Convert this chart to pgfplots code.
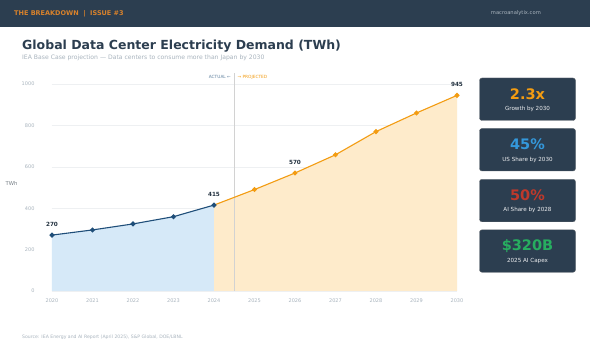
\documentclass[border=0pt]{standalone}
\usepackage{fontspec}
\setmainfont{DejaVu Sans}
\usepackage{pgfplots}
\pgfplotsset{compat=1.18}
\definecolor{navy}{HTML}{2C3E50}
\definecolor{hdrorange}{HTML}{D9822B}
\definecolor{actline}{HTML}{1F4E79}
\definecolor{actfill}{HTML}{D6E9F8}
\definecolor{proline}{HTML}{F39C12}
\definecolor{profill}{HTML}{FEEBCB}
\definecolor{tickgray}{HTML}{A9B4BE}
\definecolor{gridgray}{HTML}{EEF0F2}
\definecolor{cardorange}{HTML}{F39C12}
\definecolor{cardblue}{HTML}{3498DB}
\definecolor{cardred}{HTML}{C0392B}
\definecolor{cardgreen}{HTML}{27AE60}
\definecolor{titlecol}{HTML}{2C3E50}
\begin{document}
\begin{tikzpicture}[x=1pt,y=1pt]
\fill[white] (0,0) rectangle (590,350);
% header
\fill[navy] (0,323) rectangle (590,350);
\node[anchor=west,inner sep=0,text=hdrorange,font=\fontsize{6.5}{7}\selectfont\bfseries] at (14,336.5) {THE BREAKDOWN \ |\ \ ISSUE \#3};
\node[anchor=east,inner sep=0,text=tickgray,font=\fontsize{5.2}{6}\selectfont] at (541,336.5) {macroanalytix.com};
% titles
\node[anchor=west,inner sep=0,text=titlecol,font=\fontsize{12.5}{14}\selectfont\bfseries] at (22,304) {Global Data Center Electricity Demand (TWh)};
\node[anchor=west,inner sep=0,text=tickgray,font=\fontsize{6.1}{7}\selectfont] at (22,292) {IEA Base Case projection --- Data centers to consume more than Japan by 2030};
\node[inner sep=0,text=tickgray!70!black,font=\fontsize{5.3}{6}\selectfont] at (11.5,167) {TWh};
\node[anchor=west,inner sep=0,text=tickgray,font=\fontsize{4.6}{5}\selectfont] at (22,13) {Source: IEA Energy and AI Report (April 2025), S\&P Global, DOE/LBNL};
\begin{axis}[
  at={(52pt,59pt)}, anchor=south west,
  scale only axis, width=405pt, height=207pt,
  xmin=2020, xmax=2030, ymin=0, ymax=1000,
  clip=false,
  axis line style={draw=none},
  major tick length=0pt,
  ytick={0,200,400,600,800,1000},
  xtick={2020,2021,...,2030},
  ymajorgrids, grid style={gridgray, line width=0.5pt},
  /pgf/number format/assume math mode=true,
  x tick label style={/pgf/number format/1000 sep={}, yshift=-4pt},
  yticklabel style={/pgf/number format/1000 sep={}, xshift=-14pt},
  tick label style={text=tickgray, font=\fontsize{5}{5}\selectfont},
]
\addplot[fill=actfill, draw=none] coordinates {(2020,270) (2021,295) (2022,324) (2023,359) (2024,415)} \closedcycle;
\addplot[fill=profill, draw=none] coordinates {(2024,415) (2025,490) (2026,570) (2027,658) (2028,770) (2029,860) (2030,945)} \closedcycle;
\draw[gray!35, line width=0.6pt] (axis cs:2024.5,0) -- (axis cs:2024.5,1052);
\addplot[proline, line width=1.1pt] coordinates {(2024,415) (2025,490)};
\addplot[actline, line width=1.1pt, mark=*, mark size=1.9pt, mark options={fill=actline,draw=actline}] coordinates {(2020,270) (2021,295) (2022,324) (2023,359) (2024,415)};
\addplot[proline, line width=1.1pt, mark=*, mark size=1.9pt, mark options={fill=proline,draw=proline}] coordinates {(2025,490) (2026,570) (2027,658) (2028,770) (2029,860) (2030,945)};
\node[anchor=east,inner sep=0,text=actline!70,font=\fontsize{4.3}{5}\selectfont] at (axis cs:2024.42,1034) {ACTUAL ←};
\node[anchor=west,inner sep=0,text=proline,font=\fontsize{4.3}{5}\selectfont] at (axis cs:2024.58,1034) {→ PROJECTED};
\tikzset{dl/.style={inner sep=0,text=titlecol!80!black,font=\fontsize{5.7}{6}\selectfont\bfseries,yshift=11pt}}
\node[dl] at (axis cs:2020,270) {270};
\node[dl] at (axis cs:2024,415) {415};
\node[dl] at (axis cs:2026,570) {570};
\node[dl] at (axis cs:2030,945) {945};
\end{axis}
% cards
\foreach \top/\val/\col/\lab in {78/2.3x/cardorange/Growth by 2030, 128.5/45\%/cardblue/US Share by 2030, 179.3/50\%/cardred/AI Share by 2028, 229.8/\$320B/cardgreen/2025 AI Capex}{
  \fill[navy, draw=gray!60!navy, line width=0.4pt, rounded corners=2.5pt] (479.5,350-\top) rectangle (575.5,350-\top-42.5);
  \node[inner sep=0,text=\col,font=\fontsize{14.5}{16}\selectfont\bfseries] at (527.5,350-\top-16) {\val};
  \node[inner sep=0,text=white!92!navy,font=\fontsize{5.6}{6}\selectfont] at (527.5,350-\top-31) {\lab};
}
\end{tikzpicture}
\end{document}
